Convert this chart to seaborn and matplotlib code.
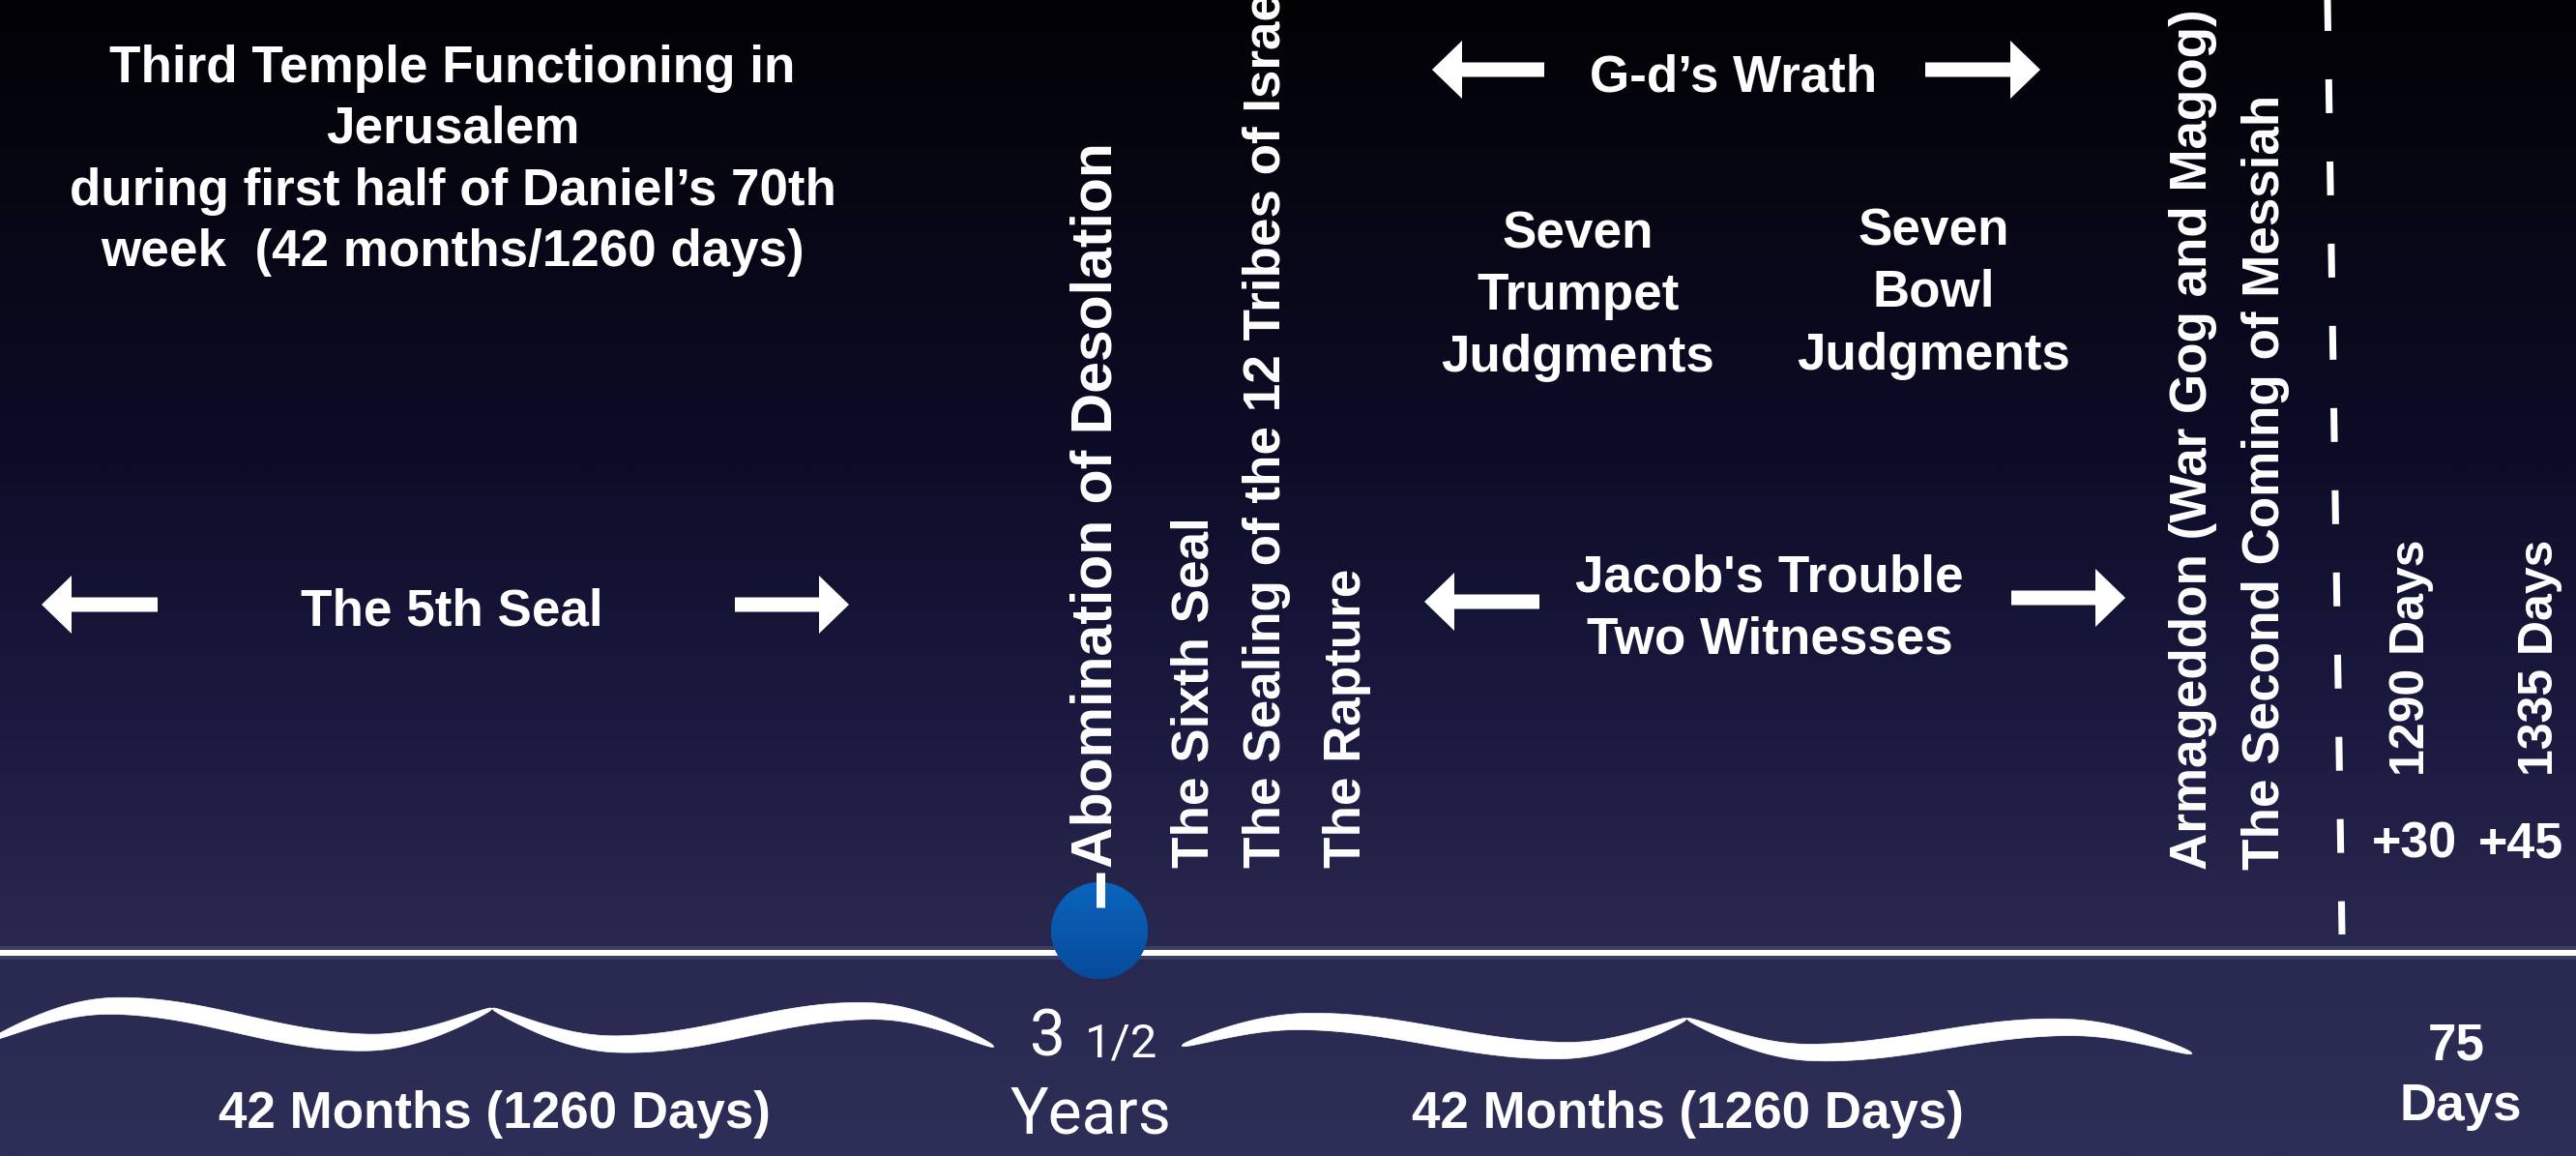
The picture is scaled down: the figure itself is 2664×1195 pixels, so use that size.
import numpy as np
import matplotlib
matplotlib.use("Agg")
import matplotlib.pyplot as plt
import seaborn as sns
from matplotlib import font_manager
from matplotlib.patches import FancyArrow, Polygon, Circle
from matplotlib.colors import LinearSegmentedColormap

# ---------------- data (labels) ----------------
intro_lines = ["Third Temple Functioning in", "Jerusalem",
               "during first half of Daniel\u2019s 70th", "week  (42 months/1260 days)"]
first_half_label = "The 5th Seal"
wrath_label = "G-d\u2019s Wrath"
trumpet_lines = ["Seven", "Trumpet", "Judgments"]
bowl_lines = ["Seven", "Bowl", "Judgments"]
trouble_lines = ["Jacob's Trouble", "Two Witnesses"]
mid_events = ["The Sixth Seal", "The Sealing of the 12 Tribes of Israel", "The Rapture"]
abomination = "Abomination of Desolation"
end_events = ["Armageddon (War Gog and Magog)", "The Second Coming of Messiah"]
extra_days = ["1290 Days", "1335 Days"]
extra_plus = ["+30", "+45"]
period_labels = ["42 Months (1260 Days)", "42 Months (1260 Days)"]
final_label = ["75", "Days"]

# ---------------- layout ----------------
W, H = 2664, 1195
sns.set_style("white")
plt.rcParams['font.family'] = ['Liberation Sans', 'DejaVu Sans']
installed = {f.name for f in font_manager.fontManager.ttflist}

fig = plt.figure(figsize=(W / 100, H / 100), dpi=100)
ax = fig.add_axes([0, 0, 1, 1])

# background gradient
bg = LinearSegmentedColormap.from_list(
    "bg", [(0.0, "#020205"), (0.12, "#05050f"), (0.4, "#0d0c28"),
           (0.64, "#1b1b42"), (0.79, "#27274e"), (1.0, "#2e2f58")])
ax.imshow(np.linspace(0, 1, 600).reshape(-1, 1), extent=[0, W, H, 0],
          aspect='auto', cmap=bg, zorder=0, interpolation='bilinear')

PX = 0.72  # px -> pt


def htext(x, yc, s, px=53, weight='bold', family=None, z=6):
    kw = dict(fontsize=px * PX, ha='center', va='baseline', color='white',
              fontweight=weight, zorder=z)
    if family:
        kw['family'] = family
    ax.text(x, yc + 0.358 * px, s, **kw)


def vtext(xb, yb, s, px=53, family=None):
    kw = dict(fontsize=px * PX, rotation=90, rotation_mode='anchor',
              ha='left', va='baseline', color='white', fontweight='bold', zorder=6)
    if family:
        kw['family'] = family
    ax.text(xb, yb, s, **kw)


def arrow(tail, tip, y):
    ax.add_patch(FancyArrow(tail, y, tip - tail, 0, width=15, head_width=60,
                            head_length=31, length_includes_head=True,
                            color='white', lw=0, zorder=6))


def brace(x0, x1, ym0, ym1, amp, end_off, cusp_extra, thick):
    s = np.linspace(0, 1, 300)
    d = np.empty_like(s)
    v = [end_off, -amp, amp, -amp - cusp_extra]
    m1 = s <= 0.25
    t = s[m1] / 0.25
    d[m1] = v[0] + (v[1] - v[0]) * np.sin(np.pi * t / 2)
    m2 = (s > 0.25) & (s <= 0.75)
    t = (s[m2] - 0.25) / 0.5
    d[m2] = v[1] + (v[2] - v[1]) * (1 - np.cos(np.pi * t)) / 2
    m3 = s > 0.75
    t = (s[m3] - 0.75) / 0.25
    d[m3] = v[2] + (v[3] - v[2]) * (1 - np.cos(np.pi * t / 2))
    w = thick * np.sin(np.pi * s) ** 0.45
    xm = (x0 + x1) / 2
    xl = x0 + s * (xm - x0)
    xr = x1 - s * (x1 - xm)
    xs = np.concatenate([xl, xr[::-1]])
    ds = np.concatenate([d, d[::-1]])
    ws = np.concatenate([w, w[::-1]])
    ym = ym0 + (xs - x0) / (x1 - x0) * (ym1 - ym0)
    yc = ym + ds
    up = yc - ws / 2
    lo = yc + ws / 2
    pts = np.concatenate([np.column_stack([xs, up]),
                          np.column_stack([xs[::-1], lo[::-1]])])
    ax.add_patch(Polygon(pts, closed=True, facecolor='white', edgecolor='white',
                         lw=0.5, zorder=4))


# timeline
tl = {"x": [0, W], "y": [985, 985]}
sns.lineplot(x=tl["x"], y=tl["y"], ax=ax, color='white', lw=14 * PX, alpha=0.10,
             sort=False, estimator=None, legend=False, zorder=2)
sns.lineplot(x=tl["x"], y=tl["y"], ax=ax, color='white', lw=6 * PX,
             sort=False, estimator=None, legend=False, zorder=3)

# dashed separator
lw_d = 7 * PX
sns.lineplot(x=[2407, 2422], y=[0, 966], ax=ax, color='white', lw=lw_d,
             linestyle=(0.43, (5.0, 7.14)), sort=False, estimator=None,
             legend=False, zorder=3, dash_capstyle='butt')

# mid-point circle with gradient
circ = Circle((1137, 962), 50, facecolor='#0858ad', edgecolor='none', zorder=5)
ax.add_patch(circ)
blue = LinearSegmentedColormap.from_list("blue", ["#0b64bd", "#064b9b"])
im = ax.imshow(np.linspace(0, 1, 100).reshape(-1, 1), extent=[1087, 1187, 1012, 912],
               aspect='auto', cmap=blue, zorder=5.1)
im.set_clip_path(circ)
sns.lineplot(x=[1138, 1138], y=[902, 938], ax=ax, color='white', lw=9 * PX,
             sort=False, estimator=None, legend=False, zorder=6,
             solid_capstyle='butt')

# braces
brace(-10, 1028, 1057, 1064, 18, 18, 0, 20)
brace(1222, 2267, 1069, 1077, 14, 12, 6, 20)

# horizontal texts
for yc, s in zip([66, 129, 193, 256], intro_lines):
    htext(468, yc, s)
htext(467, 628, first_half_label)
htext(1793, 76, wrath_label)
for yc, s in zip([238, 301, 365], trumpet_lines):
    htext(1632, yc, s)
for yc, s in zip([235, 298, 363], bowl_lines):
    htext(2000, yc, s)
for yc, s in zip([593, 657], trouble_lines):
    htext(1830, yc, s)
htext(511, 1147, period_labels[0])
htext(1745, 1147, period_labels[1])
htext(2540, 1077, final_label[0])
htext(2545, 1139, final_label[1])
for x, s in zip([2497, 2607], extra_plus):
    htext(x, 868, s, px=52)

# 3 1/2 Years (light)
htext(1083, 1068, "3", px=66, weight='normal', family=['Roboto', 'DejaVu Sans'])
htext(1160, 1075, "1/2", px=49, weight='normal', family=['Roboto', 'DejaVu Sans'])
htext(1128, 1148, "Years", px=66, weight='normal', family=['Roboto', 'DejaVu Sans'])

# arrows
arrow(163, 43, 625)
arrow(760, 878, 625)
arrow(1597, 1481, 72)
arrow(1991, 2110, 72)
arrow(1592, 1473, 622)
arrow(2080, 2198, 618)

# vertical texts
vtext(1150, 897, abomination, px=59)
for xb, s in zip([1250, 1324, 1407], mid_events):
    vtext(xb, 897, s)
for xb, s in zip([2282, 2357], end_events):
    vtext(xb, 899, s)
if 'Liberation Sans Narrow' in installed:
    for xb, s in zip([2510, 2643], extra_days):
        vtext(xb, 802, s, px=60, family=['Liberation Sans Narrow', 'Liberation Sans'])
else:
    for xb, s in zip([2507, 2640], extra_days):
        vtext(xb, 802, s, px=50)

ax.set_xlim(0, W)
ax.set_ylim(H, 0)
ax.axis('off')
fig.savefig("out.png", dpi=100)
